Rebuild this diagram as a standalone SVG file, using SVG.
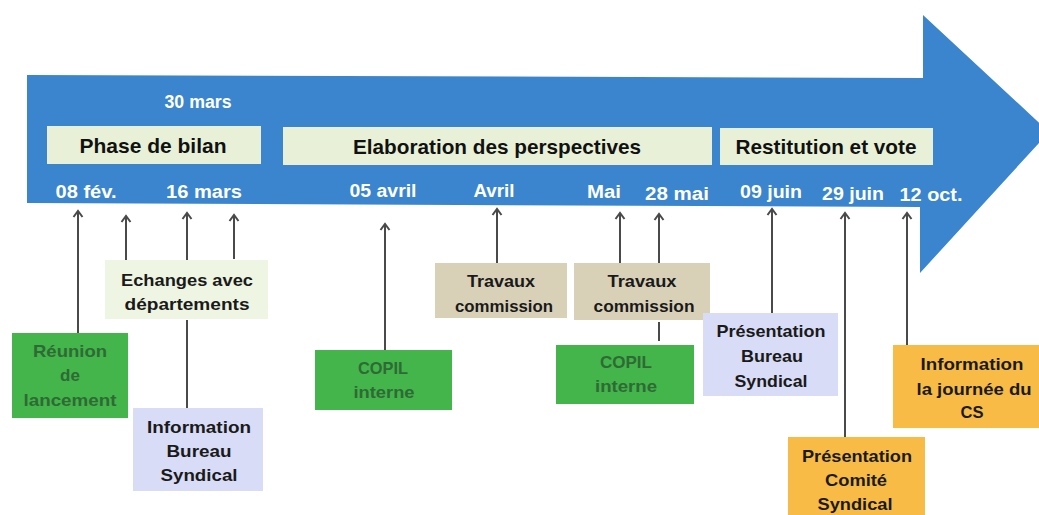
<svg xmlns="http://www.w3.org/2000/svg" width="1039" height="515" viewBox="0 0 1039 515">
  <style>
    text { font-family: "Liberation Sans", Arial, sans-serif; font-weight: bold; text-anchor: middle; }
    .date { fill: #ffffff; font-size: 18px; }
    .phase { fill: #111111; font-size: 21px; }
    .lbl { fill: #1a1a1a; font-size: 17px; }
    .lblg { fill: #2f6a35; font-size: 17px; }
    .pbox { fill: #e8f1d8; }
    .green { fill: #43b54b; }
    .pale { fill: #eef5e3; }
    .tan { fill: #d9d0b8; }
    .lav { fill: #d9dcf6; }
    .orange { fill: #f8bb45; }
    .conn line { stroke: #4a4a4a; stroke-width: 2; fill: none; }
  </style>
  <defs>
    <marker id="chev" markerUnits="userSpaceOnUse" markerWidth="14" markerHeight="14" refX="7" refY="2" orient="0" viewBox="0 0 14 14">
      <path d="M2.5,8 L7,2 L11.5,8" fill="none" stroke="#4a4a4a" stroke-width="2"/>
    </marker>
  </defs>
  <rect width="1039" height="515" fill="#ffffff"/>

  <g id="timeline-arrow">
    <polygon points="27,75 923,78 923,15 1049,132 920,273 920,207 27,203" fill="#3a85cd"/>
  </g>

  <g id="phase-bilan">
    <rect class="pbox" x="47" y="126" width="214" height="38"/>
    <text class="phase" x="153" y="153" textLength="147" lengthAdjust="spacingAndGlyphs">Phase de bilan</text>
  </g>
  <g id="phase-elaboration">
    <rect class="pbox" x="283" y="127" width="429" height="38"/>
    <text class="phase" x="497" y="154" textLength="288" lengthAdjust="spacingAndGlyphs">Elaboration des perspectives</text>
  </g>
  <g id="phase-restitution">
    <rect class="pbox" x="720" y="128" width="213" height="37"/>
    <text class="phase" x="826" y="154" textLength="181" lengthAdjust="spacingAndGlyphs">Restitution et vote</text>
  </g>

  <g id="dates">
    <text class="date" x="198" y="108" textLength="67" lengthAdjust="spacingAndGlyphs">30 mars</text>
    <text class="date" x="86" y="198" textLength="61" lengthAdjust="spacingAndGlyphs">08 fév.</text>
    <text class="date" x="204" y="198" textLength="76" lengthAdjust="spacingAndGlyphs">16 mars</text>
    <text class="date" x="383" y="197" textLength="67" lengthAdjust="spacingAndGlyphs">05 avril</text>
    <text class="date" x="494" y="197" textLength="41" lengthAdjust="spacingAndGlyphs">Avril</text>
    <text class="date" x="604" y="198" textLength="34" lengthAdjust="spacingAndGlyphs">Mai</text>
    <text class="date" x="677" y="200" textLength="64" lengthAdjust="spacingAndGlyphs">28 mai</text>
    <text class="date" x="771" y="198" textLength="62" lengthAdjust="spacingAndGlyphs">09 juin</text>
    <text class="date" x="853" y="200" textLength="62" lengthAdjust="spacingAndGlyphs">29 juin</text>
    <text class="date" x="931" y="201" textLength="63" lengthAdjust="spacingAndGlyphs">12 oct.</text>
  </g>

  <g id="connectors" class="conn">
    <line x1="78" y1="333" x2="78" y2="211" marker-end="url(#chev)"/>
    <line x1="126" y1="260" x2="126" y2="216" marker-end="url(#chev)"/>
    <line x1="187" y1="260" x2="187" y2="213" marker-end="url(#chev)"/>
    <line x1="234" y1="259" x2="234" y2="215" marker-end="url(#chev)"/>
    <line x1="187" y1="408" x2="187" y2="320"/>
    <line x1="385" y1="350" x2="385" y2="224" marker-end="url(#chev)"/>
    <line x1="497" y1="263" x2="497" y2="209" marker-end="url(#chev)"/>
    <line x1="620" y1="263" x2="620" y2="213" marker-end="url(#chev)"/>
    <line x1="659" y1="263" x2="659" y2="214" marker-end="url(#chev)"/>
    <line x1="659" y1="322" x2="659" y2="341"/>
    <line x1="772" y1="313" x2="772" y2="209" marker-end="url(#chev)"/>
    <line x1="845" y1="437" x2="845" y2="213" marker-end="url(#chev)"/>
    <line x1="907" y1="345" x2="907" y2="213" marker-end="url(#chev)"/>
  </g>

  <g id="reunion-lancement">
    <rect class="green" x="12" y="333" width="116" height="85"/>
    <text class="lblg" x="70" y="357" textLength="74" lengthAdjust="spacingAndGlyphs">Réunion</text>
    <text class="lblg" x="70" y="381">de</text>
    <text class="lblg" x="70" y="406" textLength="93" lengthAdjust="spacingAndGlyphs">lancement</text>
  </g>

  <g id="echanges-departements">
    <rect class="pale" x="105" y="260" width="163" height="59"/>
    <text class="lbl" x="187" y="286" textLength="132" lengthAdjust="spacingAndGlyphs">Echanges avec</text>
    <text class="lbl" x="187" y="310" textLength="125" lengthAdjust="spacingAndGlyphs">départements</text>
  </g>

  <g id="information-bureau">
    <rect class="lav" x="133" y="408" width="130" height="83"/>
    <text class="lbl" x="199" y="433" textLength="104" lengthAdjust="spacingAndGlyphs">Information</text>
    <text class="lbl" x="199" y="457" textLength="65" lengthAdjust="spacingAndGlyphs">Bureau</text>
    <text class="lbl" x="199" y="481" textLength="77" lengthAdjust="spacingAndGlyphs">Syndical</text>
  </g>

  <g id="copil-interne-1">
    <rect class="green" x="315" y="350" width="137" height="60"/>
    <text class="lblg" x="383" y="374" textLength="50" lengthAdjust="spacingAndGlyphs">COPIL</text>
    <text class="lblg" x="384" y="398" textLength="61" lengthAdjust="spacingAndGlyphs">interne</text>
  </g>

  <g id="travaux-commission-1">
    <rect class="tan" x="435" y="263" width="132" height="55"/>
    <text class="lbl" x="501" y="287" textLength="68" lengthAdjust="spacingAndGlyphs">Travaux</text>
    <text class="lbl" x="504" y="312" textLength="98" lengthAdjust="spacingAndGlyphs">commission</text>
  </g>

  <g id="travaux-commission-2">
    <rect class="tan" x="574" y="263" width="136" height="57"/>
    <text class="lbl" x="642" y="287" textLength="69" lengthAdjust="spacingAndGlyphs">Travaux</text>
    <text class="lbl" x="644" y="312" textLength="101" lengthAdjust="spacingAndGlyphs">commission</text>
  </g>

  <g id="copil-interne-2">
    <rect class="green" x="556" y="345" width="138" height="59"/>
    <text class="lblg" x="626" y="368" textLength="52" lengthAdjust="spacingAndGlyphs">COPIL</text>
    <text class="lblg" x="626" y="392" textLength="62" lengthAdjust="spacingAndGlyphs">interne</text>
  </g>

  <g id="presentation-bureau">
    <rect class="lav" x="703" y="313" width="135" height="83"/>
    <text class="lbl" x="771" y="337" textLength="109" lengthAdjust="spacingAndGlyphs">Présentation</text>
    <text class="lbl" x="772" y="362" textLength="62" lengthAdjust="spacingAndGlyphs">Bureau</text>
    <text class="lbl" x="771" y="387" textLength="73" lengthAdjust="spacingAndGlyphs">Syndical</text>
  </g>

  <g id="presentation-comite">
    <rect class="orange" x="788" y="437" width="137" height="80"/>
    <text class="lbl" x="857" y="462" textLength="110" lengthAdjust="spacingAndGlyphs">Présentation</text>
    <text class="lbl" x="856" y="486" textLength="62" lengthAdjust="spacingAndGlyphs">Comité</text>
    <text class="lbl" x="855" y="510" textLength="75" lengthAdjust="spacingAndGlyphs">Syndical</text>
  </g>

  <g id="information-journee">
    <rect class="orange" x="893" y="345" width="150" height="83"/>
    <text class="lbl" x="972" y="370" textLength="103" lengthAdjust="spacingAndGlyphs">Information</text>
    <text class="lbl" x="974" y="395" textLength="115" lengthAdjust="spacingAndGlyphs">la journée du</text>
    <text class="lbl" x="972" y="418" textLength="23" lengthAdjust="spacingAndGlyphs">CS</text>
  </g>
</svg>
